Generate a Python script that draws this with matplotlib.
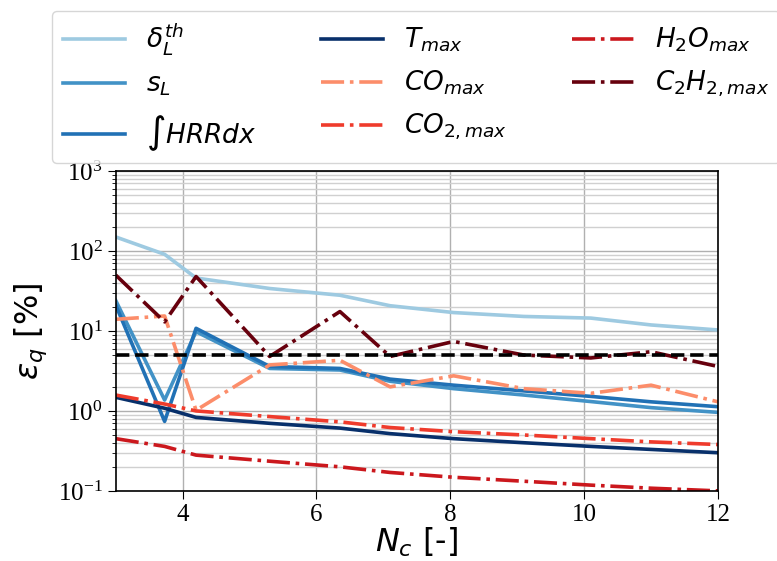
import numpy as np
import matplotlib
matplotlib.use("Agg")
import matplotlib.pyplot as plt

plt.rcParams['font.family'] = ['Liberation Serif', 'DejaVu Serif']
plt.rcParams['mathtext.fontset'] = 'dejavusans'

Nc = [3.0, 3.73, 4.2, 5.3, 6.35, 7.1, 8.05, 9.1, 10.1, 11.0, 12.0]

delta_L = [150, 91, 46, 34, 28, 20.7, 17, 15.2, 14.5, 11.9, 10.3]
s_L = [24, 1.37, 9.8, 3.4, 3.25, 2.35, 1.9, 1.58, 1.31, 1.1, 0.96]
hrr = [21, 0.74, 10.8, 3.6, 3.4, 2.5, 2.1, 1.78, 1.52, 1.3, 1.13]
T_max = [1.48, 1.08, 0.83, 0.70, 0.61, 0.52, 0.45, 0.40, 0.36, 0.33, 0.30]
CO_max = [14, 15.4, 1.02, 3.76, 4.3, 2.0, 2.75, 1.9, 1.66, 2.1, 1.3]
CO2_max = [1.58, 1.22, 1.0, 0.85, 0.73, 0.62, 0.55, 0.50, 0.45, 0.41, 0.38]
H2O_max = [0.45, 0.36, 0.28, 0.235, 0.20, 0.17, 0.148, 0.132, 0.118, 0.108, 0.10]
C2H2_max = [50, 13, 48, 4.8, 17.5, 4.8, 7.4, 5.0, 4.6, 5.5, 3.6]
threshold = 5.0

labels = [r'$\delta_L^{th}$', r'$s_L$', r'$\int HRR dx$', r'$T_{max}$',
          r'$CO_{max}$', r'$CO_{2,max}$', r'$H_2O_{max}$', r'$C_2H_{2,max}$']

fig = plt.figure(figsize=(7.77, 5.61), dpi=100)
ax = fig.add_axes([0.149, 0.125, 0.775, 0.570])

lw = 2.6
series = [
    (delta_L, '#9ecae1', '-'),
    (s_L, '#4292c6', '-'),
    (hrr, '#2171b5', '-'),
    (T_max, '#08306b', '-'),
    (CO_max, '#fc8d6a', '-.'),
    (CO2_max, '#ef3b2c', '-.'),
    (H2O_max, '#cb181d', '-.'),
    (C2H2_max, '#67000d', '-.'),
]
handles = []
for (vals, c, ls), lab in zip(series, labels):
    h, = ax.plot(Nc, vals, color=c, ls=ls, lw=lw, label=lab)
    handles.append(h)

ax.axhline(threshold, color='black', ls='--', lw=2.6)

ax.set_yscale('log')
ax.set_xlim(3, 12)
ax.set_ylim(0.1, 1000)
ax.set_xticks([4, 6, 8, 10, 12])
ax.grid(True, which='major', color='#b0b0b0', lw=1.0)
ax.grid(True, which='minor', axis='y', color='#d0d0d0', lw=1.0)
ax.tick_params(axis='both', which='major', labelsize=18, length=6)
ax.tick_params(axis='y', which='minor', length=3)
for s in ax.spines.values():
    s.set_linewidth(1.2)

ax.set_xlabel(r'$N_c$ [-]', fontsize=23, family='DejaVu Sans', labelpad=0)
ax.set_ylabel(r'$\epsilon_q$ [%]', fontsize=23, family='DejaVu Sans', labelpad=6)

leg = ax.legend(handles=handles, ncol=3, loc='lower left',
                bbox_to_anchor=(0.067, 0.709), bbox_transform=fig.transFigure,
                borderaxespad=0, handlelength=2.35, handletextpad=0.8,
                columnspacing=2.46, labelspacing=0.55,
                prop={'family': 'DejaVu Sans', 'size': 19})

fig.savefig('out.png', dpi=100)
